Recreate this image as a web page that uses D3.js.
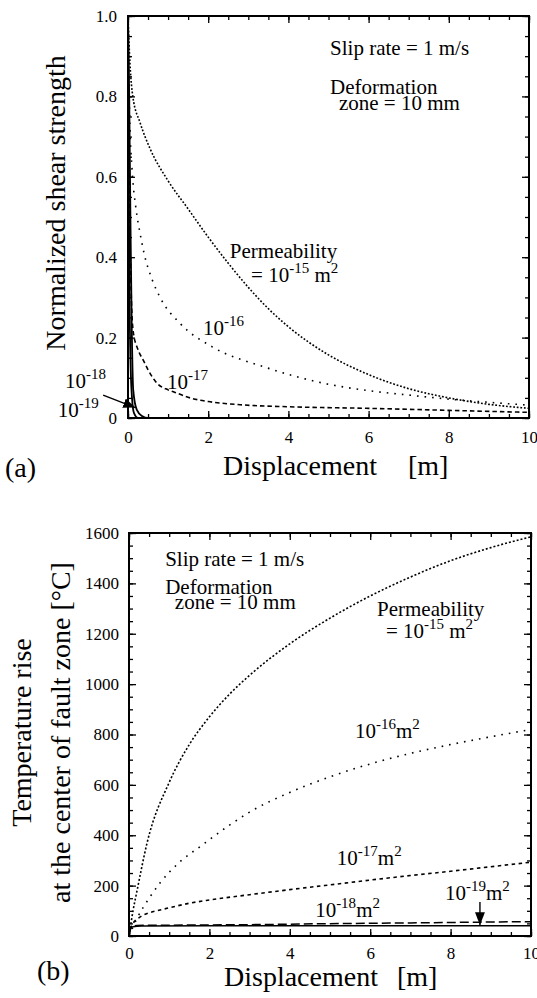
<!DOCTYPE html>
<html><head><meta charset="utf-8">
<script src="https://cdn.jsdelivr.net/npm/d3@7"></script>
<style>
body{margin:0;background:#fff;}
svg{display:block;}
text{font-family:"Liberation Serif","Times New Roman",Times,serif;fill:#000;}
</style></head><body>
<svg id="c" width="537" height="998"></svg>
<script>
// ---------- data ----------
const displacementTicks = [0, 2, 4, 6, 8, 10];
const displacementTickLabels = ["0", "2", "4", "6", "8", "10"];
const shearTicks = [0, 0.2, 0.4, 0.6, 0.8, 1.0];
const shearTickLabels = ["0", "0.2", "0.4", "0.6", "0.8", "1.0"];
const tempTicks = [0, 200, 400, 600, 800, 1000, 1200, 1400, 1600];
const tempTickLabels = ["0", "200", "400", "600", "800", "1000", "1200", "1400", "1600"];

// (a) normalized shear strength vs displacement [m]
const shear15 = [[0,1.0],[0.05,0.88],[0.12,0.8],[0.3,0.735],[0.55,0.67],[1.0,0.59],[1.5,0.52],[2,0.45],[2.5,0.385],[3,0.325],[3.5,0.272],[4,0.227],[5,0.157],[6,0.108],[7,0.073],[8,0.05],[9,0.034],[10,0.024]];
const shear16 = [[0,1.0],[0.02,0.85],[0.05,0.72],[0.1,0.62],[0.2,0.52],[0.3,0.46],[0.4,0.41],[0.6,0.345],[0.8,0.3],[1.3,0.235],[2.1,0.177],[3.4,0.127],[5,0.084],[6,0.068],[7,0.057],[8,0.047],[9,0.039],[10,0.032]];
const shear17 = [[0,1.0],[0.03,0.6],[0.07,0.35],[0.13,0.215],[0.25,0.17],[0.38,0.144],[0.5,0.12],[0.72,0.087],[1.0,0.07],[1.22,0.062],[1.55,0.05],[2,0.041],[2.8,0.033],[4,0.028],[6,0.024],[8,0.019],[10,0.014]];
const shear18 = [[0,1.0],[0.03,0.8],[0.06,0.5],[0.09,0.25],[0.13,0.07],[0.22,0.02],[0.35,0.005],[0.5,0],[0.7,0]];
const shear19 = [[0,1.0],[0.01,0.8],[0.03,0.4],[0.06,0.15],[0.1,0.05],[0.15,0.012],[0.25,0],[0.4,0]];

// (b) temperature rise [°C] vs displacement [m]
const temp15 = [[0,0],[0.1,100],[0.2,180],[0.45,370],[1,610],[1.5,760],[2,870],[2.5,960],[3,1035],[4,1160],[5,1262],[6,1350],[7,1425],[8,1490],[9,1542],[10,1585]];
const temp16 = [[0,0],[0.2,70],[0.5,150],[0.77,210],[1.27,295],[1.77,355],[2.5,440],[3,492],[4,570],[5,632],[6,683],[7,725],[8,760],[9,791],[10,820]];
const temp17 = [[0,0],[0.05,35],[0.1,50],[0.27,75],[0.5,92],[0.77,103],[1.0,112],[1.5,130],[2,143],[3,164],[4,184],[5,203],[6,222],[7,240],[8,257],[9,275],[10,293]];
const temp18 = [[0,0],[0.03,25],[0.08,38],[0.2,42],[1,43],[3,45],[5,49],[7,52],[8.7,55],[10,57]];
const temp19 = [[0,0],[0.02,20],[0.05,32],[0.1,37],[0.3,40],[2,41],[10,41]];

// ---------- layout ----------
const svg = d3.select("#c");
const FONT = '"Liberation Serif","Times New Roman",Times,serif';

const xa = d3.scaleLinear().domain([0, 10]).range([128, 529]);
const ya = d3.scaleLinear().domain([0, 1]).range([418, 16]);
const xb = d3.scaleLinear().domain([0, 10]).range([129, 531]);
const yb = d3.scaleLinear().domain([0, 1600]).range([936, 533]);

const defs = svg.append("defs");
defs.append("marker").attr("id", "ahA").attr("markerUnits", "userSpaceOnUse")
  .attr("viewBox", "0 0 12 10").attr("refX", 12).attr("refY", 5)
  .attr("markerWidth", 12).attr("markerHeight", 10).attr("orient", "auto")
  .append("path").attr("d", "M0,0 L12,5 L0,10 Z").attr("fill", "#000");
defs.append("marker").attr("id", "ahB").attr("markerUnits", "userSpaceOnUse")
  .attr("viewBox", "0 0 13 10").attr("refX", 13).attr("refY", 5)
  .attr("markerWidth", 13).attr("markerHeight", 10).attr("orient", "auto")
  .append("path").attr("d", "M0,0 L13,5 L0,10 Z").attr("fill", "#000");

function styleAxis(g) {
  g.select(".domain").remove();
  g.attr("font-size", 17).attr("font-family", FONT);
  g.selectAll("line").attr("stroke", "#000").attr("stroke-width", 1.3);
  g.selectAll("text").attr("fill", "#000");
}

function drawAxes(x, y, opt) {
  const [x0, x1] = x.range();
  const [y0, y1] = y.range();
  const xMinor = d3.range(0, 10.0001, 0.5);
  const yd = y.domain();
  const yMinor = d3.range(yd[0], yd[1] + 1e-9, opt.yMinorStep);
  const g = svg.append("g");
  g.append("g").attr("transform", `translate(0,${y0})`)
    .call(d3.axisBottom(x).tickValues(xMinor).tickSize(-4).tickFormat("")).call(styleAxis);
  g.append("g").attr("transform", `translate(0,${y0})`)
    .call(d3.axisBottom(x).tickValues(displacementTicks).tickSize(-7).tickPadding(opt.xPad)
      .tickFormat((d, i) => displacementTickLabels[i])).call(styleAxis);
  g.append("g").attr("transform", `translate(0,${y1})`)
    .call(d3.axisTop(x).tickValues(xMinor).tickSize(-4).tickFormat("")).call(styleAxis);
  g.append("g").attr("transform", `translate(0,${y1})`)
    .call(d3.axisTop(x).tickValues(displacementTicks).tickSize(-7).tickFormat("")).call(styleAxis);
  g.append("g").attr("transform", `translate(${x0},0)`)
    .call(d3.axisLeft(y).tickValues(yMinor).tickSize(-4).tickFormat("")).call(styleAxis);
  g.append("g").attr("transform", `translate(${x0},0)`)
    .call(d3.axisLeft(y).tickValues(opt.yTicks).tickSize(-7).tickPadding(opt.yPad)
      .tickFormat((d, i) => opt.yLabels[i])).call(styleAxis);
  g.append("g").attr("transform", `translate(${x1},0)`)
    .call(d3.axisRight(y).tickValues(yMinor).tickSize(-4).tickFormat("")).call(styleAxis);
  g.append("g").attr("transform", `translate(${x1},0)`)
    .call(d3.axisRight(y).tickValues(opt.yTicks).tickSize(-7).tickFormat("")).call(styleAxis);
  g.append("rect").attr("x", x0).attr("y", y1).attr("width", x1 - x0).attr("height", y0 - y1)
    .attr("fill", "none").attr("stroke", "#000").attr("stroke-width", 2);
}

function drawSeries(x, y, list, clipId) {
  const [x0, x1] = x.range();
  const [y0, y1] = y.range();
  defs.append("clipPath").attr("id", clipId).append("rect")
    .attr("x", x0).attr("y", y1 - 2).attr("width", x1 - x0).attr("height", y0 - y1 + 2);
  const line = d3.line().x(d => x(d[0])).y(d => y(d[1])).curve(d3.curveMonotoneX);
  const g = svg.append("g").attr("clip-path", `url(#${clipId})`);
  list.forEach(s => {
    g.append("path").attr("d", line(s.data)).attr("fill", "none").attr("stroke", "#000")
      .attr("stroke-width", s.w).attr("stroke-dasharray", s.dash || null);
  });
}

function note(x, y, n) {
  const t = svg.append("text").attr("x", x(n.x)).attr("y", y(n.y))
    .attr("font-size", 21).attr("font-family", FONT);
  let up = false;
  n.parts.forEach(p => {
    const sup = p[1] === true;
    const ts = t.append("tspan").text(p[0]);
    if (sup && !up) { ts.attr("dy", -9).attr("font-size", 15); up = true; }
    else if (sup) { ts.attr("font-size", 15); }
    else if (!sup && up) { ts.attr("dy", 9); up = false; }
  });
}

// ---------- panel (a) ----------
drawAxes(xa, ya, { yTicks: shearTicks, yLabels: shearTickLabels, yMinorStep: 0.05, xPad: 13, yPad: 11 });
drawSeries(xa, ya, [
  { data: shear15, dash: "1.8,1.8", w: 1.6 },
  { data: shear16, dash: "1.6,6", w: 1.6 },
  { data: shear17, dash: "4.5,3", w: 1.6 },
  { data: shear18, w: 1.8 },
  { data: shear19, w: 1.8 }
], "clipA");

const notesA = [
  { x: 5.04, y: 0.903, parts: [["Slip rate = 1 m/s"]] },
  { x: 5.04, y: 0.806, parts: [["Deformation"]] },
  { x: 5.26, y: 0.766, parts: [["zone = 10 mm"]] },
  { x: 2.54, y: 0.398, parts: [["Permeability"]] },
  { x: 3.07, y: 0.338, parts: [["= 10"], ["-15", true], ["  m"], ["2", true]] },
  { x: 1.87, y: 0.206, parts: [["10"], ["-16", true]] },
  { x: 0.97, y: 0.072, parts: [["10"], ["-17", true]] },
  { x: -1.57, y: 0.075, parts: [["10"], ["-18", true]] },
  { x: -1.75, y: 0.0025, parts: [["10"], ["-19", true]] }
];
notesA.forEach(n => note(xa, ya, n));

svg.append("line").attr("x1", xa(-0.62)).attr("y1", ya(0.057)).attr("x2", xa(0.18)).attr("y2", ya(0.026))
  .attr("stroke", "#000").attr("stroke-width", 1.4).attr("marker-end", "url(#ahA)");

svg.append("text").attr("transform", `translate(65,${ya(0.535)}) rotate(-90)`)
  .attr("text-anchor", "middle").attr("font-size", 28).attr("font-family", FONT)
  .text("Normalized shear strength");
svg.append("text").attr("x", 223).attr("y", 475).attr("font-size", 28).attr("font-family", FONT).text("Displacement");
svg.append("text").attr("x", 408).attr("y", 475).attr("font-size", 28).attr("font-family", FONT).text("[m]");
svg.append("text").attr("x", 5).attr("y", 477).attr("font-size", 28).attr("font-family", FONT).text("(a)");

// ---------- panel (b) ----------
drawAxes(xb, yb, { yTicks: tempTicks, yLabels: tempTickLabels, yMinorStep: 50, xPad: 11, yPad: 10 });
drawSeries(xb, yb, [
  { data: temp15, dash: "2,2", w: 1.6 },
  { data: temp16, dash: "1.6,6", w: 1.6 },
  { data: temp17, dash: "3.5,3.5", w: 1.6 },
  { data: temp18, dash: "9,4", w: 1.5 },
  { data: temp19, w: 1.5 }
], "clipB");

const notesB = [
  { x: 0.9, y: 1469, parts: [["Slip rate = 1 m/s"]] },
  { x: 0.9, y: 1358, parts: [["Deformation"]] },
  { x: 1.14, y: 1300, parts: [["zone = 10 mm"]] },
  { x: 6.17, y: 1270, parts: [["Permeability"]] },
  { x: 6.39, y: 1185, parts: [["= 10"], ["-15", true], [" m"], ["2", true]] },
  { x: 5.62, y: 786, parts: [["10"], ["-16", true], ["m"], ["2", true]] },
  { x: 5.17, y: 282, parts: [["10"], ["-17", true], ["m"], ["2", true]] },
  { x: 4.63, y: 75, parts: [["10"], ["-18", true], ["m"], ["2", true]] },
  { x: 7.86, y: 143, parts: [["10"], ["-19", true], ["m"], ["2", true]] }
];
notesB.forEach(n => note(xb, yb, n));

svg.append("line").attr("x1", xb(8.73)).attr("y1", yb(135)).attr("x2", xb(8.73)).attr("y2", yb(43))
  .attr("stroke", "#000").attr("stroke-width", 1.4).attr("marker-end", "url(#ahB)");

const yt = svg.append("text").attr("font-size", 28).attr("font-family", FONT).attr("text-anchor", "middle")
  .attr("transform", `translate(0,${yb(800) - 2}) rotate(-90)`);
yt.append("tspan").attr("x", 0).attr("y", 31).text("Temperature rise");
yt.append("tspan").attr("x", 0).attr("y", 70).text("at the center of fault zone [°C]");

svg.append("text").attr("x", 224).attr("y", 986).attr("font-size", 28).attr("font-family", FONT).text("Displacement");
svg.append("text").attr("x", 397).attr("y", 986).attr("font-size", 28).attr("font-family", FONT).text("[m]");
svg.append("text").attr("x", 37).attr("y", 980).attr("font-size", 28).attr("font-family", FONT).text("(b)");
</script>
</body></html>
